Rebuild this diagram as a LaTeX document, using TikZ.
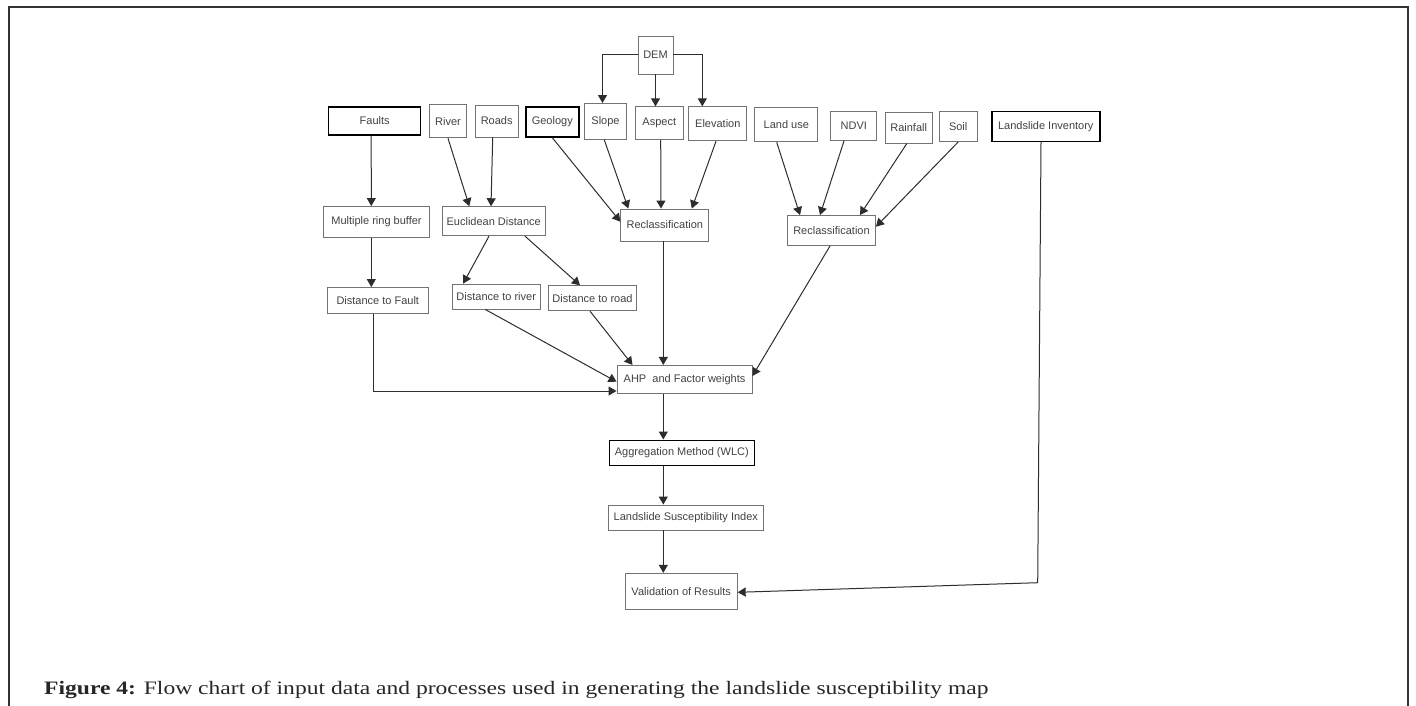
\documentclass[tikz,border=0pt]{standalone}
\usepackage{fontspec}
\setmainfont{Liberation Sans}
\newfontfamily\capfont[FakeStretch=1.24]{Liberation Serif}
\usetikzlibrary{arrows.meta}

\definecolor{boxgray}{RGB}{115,115,115}
\definecolor{txtgray}{RGB}{65,65,65}
\definecolor{linegray}{RGB}{45,45,45}

\begin{document}
\begin{tikzpicture}[x=1pt,y=-1pt,
    box/.style={draw=boxgray,line width=0.9pt,text=txtgray,inner sep=0pt,align=center,
                font=\fontsize{11pt}{11pt}\selectfont},
    boldbox/.style={box,draw=black,line width=1.4pt},
    arr/.style={draw=linegray,line width=1pt,-{Triangle[length=8pt,width=9pt]}}]
    \useasboundingbox (0,0) rectangle (1416,706);
    % frame
    \draw [line width=1.5pt, black!80] (9,706) -- (9,7) -- (1408,7) -- (1408,706);
    % DEM on top
    \node [box,minimum width=35pt,minimum height=38pt] (dem) at (655.5,55) {DEM};
    % row of input layers
    \node [boldbox,minimum width=92pt,minimum height=28pt] (faults) at (374.7,121) {Faults};
    \node [box,minimum width=37pt,minimum height=33pt] (river) at (448,121.3) {River};
    \node [box,minimum width=43pt,minimum height=32pt] (roads) at (496.7,121) {Roads};
    \node [boldbox,minimum width=53pt,minimum height=30pt] (geology) at (552.3,122) {Geology};
    \node [box,minimum width=42pt,minimum height=36pt] (slope) at (605.5,121.5) {Slope};
    \node [box,minimum width=48pt,minimum height=33pt] (aspect) at (659.3,123.3) {Aspect};
    \node [box,minimum width=58pt,minimum height=34pt] (elev) at (717.8,123.8) {Elevation};
    \node [box,minimum width=63pt,minimum height=34pt] (landuse) at (786.3,124.8) {Land use};
    \node [box,minimum width=46pt,minimum height=29pt] (ndvi) at (853.8,126) {NDVI};
    \node [box,minimum width=47pt,minimum height=31pt] (rain) at (908.7,127.7) {Rainfall};
    \node [box,minimum width=38pt,minimum height=30pt] (soil) at (958.2,126.5) {Soil};
    \node [boldbox,minimum width=108pt,minimum height=30pt] (inv) at (1045.8,126.5) {Landslide Inventory};
    % processing
    \node [box,minimum width=106pt,minimum height=31pt] (mrb) at (376.5,222) {Multiple ring buffer};
    \node [box,minimum width=103pt,minimum height=29pt] (euclid) at (493.7,221.2) {Euclidean Distance};
    \node [box,minimum width=88pt,minimum height=32pt] (reclassA) at (664.8,225) {Reclassification};
    \node [box,minimum width=88pt,minimum height=30pt] (reclassB) at (831.5,230.5) {Reclassification};
    % distance layers
    \node [box,minimum width=101pt,minimum height=26pt] (dtf) at (377.8,300.5) {Distance to Fault};
    \node [box,minimum width=88pt,minimum height=25pt] (dtr) at (496.2,296.5) {Distance to river};
    \node [box,minimum width=88pt,minimum height=25pt] (dtroad) at (592.5,298.2) {Distance to road};
    % main column
    \node [box,minimum width=135pt,minimum height=28pt] (ahp) at (684.5,379.4) {AHP\ \ and Factor weights};
    \node [boldbox,minimum width=145pt,minimum height=25pt] (agg) at (681.8,452.7) {Aggregation Method (WLC)};
    \node [box,minimum width=155pt,minimum height=25pt] (lsi) at (685.8,517.5) {Landslide Susceptibility Index};
    \node [box,minimum width=112pt,minimum height=36pt] (valid) at (681.2,591.3) {Validation of Results};
    \coordinate (spine) at (663.3,0);
    \coordinate (bend) at (1037.7,582.7);
    % DEM arrows
    \draw [arr] (dem.west) -| ([xshift=-3pt]slope.north);
    \draw [arr] (dem.south) -- (dem.south |- aspect.north);
    \draw [arr] (dem.east) -| ([xshift=-15.5pt]elev.north);
    % to buffer and distance
    \draw [arr] ([xshift=-3.5pt]faults.south) -- ([xshift=-5.2pt]mrb.north);
    \draw [arr] (river.south) -- ([xshift=-24.4pt]euclid.north);
    \draw [arr] ([xshift=-4pt]roads.south) -- ([xshift=-2.7pt]euclid.north);
    % to first reclassification
    \draw [arr] (geology.south) -- ([yshift=3.3pt]reclassA.west);
    \draw [arr] ([xshift=-1.2pt]slope.south) -- ([xshift=-36.5pt]reclassA.north);
    \draw [arr] ([xshift=1.4pt]aspect.south) -- ([xshift=-3.8pt]reclassA.north);
    \draw [arr] ([xshift=-1.8pt]elev.south) -- ([xshift=27pt]reclassA.north);
    % to second reclassification
    \draw [arr] ([xshift=-9.6pt]landuse.south) -- ([xshift=-31.5pt]reclassB.north);
    \draw [arr] ([xshift=-9.8pt]ndvi.south) -- ([xshift=-11.5pt]reclassB.north);
    \draw [arr] ([xshift=-2pt]rain.south) -- ([xshift=28.5pt]reclassB.north);
    \draw [arr] (soil.south) -- ([yshift=3.8pt]reclassB.east);
    % distances
    \draw [arr] ([xshift=-5.2pt]mrb.south) -- ([xshift=-6.5pt]dtf.north);
    \draw [arr] ([xshift=-4.7pt]euclid.south) -- ([xshift=-33pt]dtr.north);
    \draw [arr] ([xshift=31.3pt]euclid.south) -- ([xshift=-12.5pt]dtroad.north);
    % into AHP
    \draw [arr] ([xshift=-4.5pt]dtf.south) |- ([yshift=-11.6pt]ahp.west);
    \draw [arr] ([xshift=-11pt]dtr.south) -- ([yshift=-2.3pt]ahp.west);
    \draw [arr] ([xshift=-2.5pt]dtroad.south) -- ([xshift=-52pt]ahp.north);
    \draw [arr] (spine |- reclassA.south) -- (spine |- ahp.north);
    \draw [arr] ([xshift=-1.5pt]reclassB.south) -- ([yshift=3.4pt]ahp.east);
    % down the column
    \draw [arr] (spine |- ahp.south) -- (spine |- agg.north);
    \draw [arr] (spine |- agg.south) -- (spine |- lsi.north);
    \draw [arr] (spine |- lsi.south) -- (spine |- valid.north);
    % inventory to validation
    \draw [arr] ([xshift=-4.8pt]inv.south) -- (bend) -- ([yshift=-1pt]valid.east);
    % caption
    \node [anchor=base west,inner sep=0pt,text=black!85,font=\capfont\fontsize{19pt}{19pt}\selectfont] (caption) at (44,694)
      {\textbf{Figure 4:} Flow chart of input data and processes used in generating the landslide susceptibility map};
\end{tikzpicture}
\end{document}
